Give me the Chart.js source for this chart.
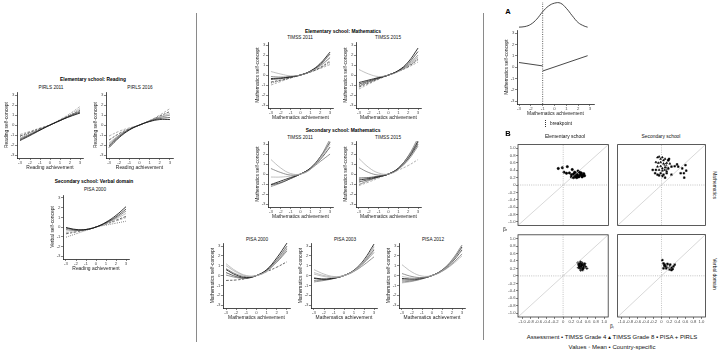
<!DOCTYPE html>
<html><head><meta charset="utf-8">
<script src="https://cdn.jsdelivr.net/npm/chart.js@4/dist/chart.umd.min.js"></script>
<style>
html,body{margin:0;padding:0;background:#fff;}
body{width:720px;height:353px;overflow:hidden;position:relative;font-family:"Liberation Sans",Arial,sans-serif;}
canvas{position:absolute;}
.t{position:absolute;transform:translate(-50%,-50%);white-space:nowrap;font-size:4.7px;color:#111;line-height:1;}
.b{font-weight:bold;font-size:4.9px;color:#000;}
.big{font-weight:bold;font-size:7.5px;color:#000;}
.s{font-size:4.9px;color:#111;}
.lg{font-size:6px;color:#111;}
.sep{position:absolute;width:1px;background:#8a8a8a;}
</style></head><body>
<script>
// ---------------- DATA ----------------
const achievementTicks = [-3,-2,-1,0,1,2,3];
const curveX = [-3,-2,-1,0,1,2,3];
const betaTicks = [-1.0,-0.8,-0.6,-0.4,-0.2,0,0.2,0.4,0.6,0.8,1.0];

// Elementary reading
const pirls2011 = [
  [-1.55,-1.05,-0.52,0,0.45,0.85,1.2],
  [-1.45,-0.97,-0.48,0,0.45,0.9,1.3],
  [-1.35,-0.9,-0.45,0,0.47,0.95,1.4],
  [-1.2,-0.8,-0.4,0,0.5,1.05,1.65],
  [-1.1,-0.72,-0.35,0,0.45,0.95,1.5],
  [-0.95,-0.63,-0.3,0,0.55,1.15,1.85]
];
const pirls2016 = [
  [-2.25,-1.25,-0.5,0,0.35,0.55,0.55],
  [-2.1,-1.15,-0.45,0,0.38,0.65,0.75],
  [-1.95,-1.05,-0.42,0,0.4,0.75,1.0],
  [-1.8,-1.0,-0.4,0,0.42,0.82,1.15],
  [-1.5,-0.85,-0.37,0,0.43,0.9,1.35],
  [-1.1,-0.62,-0.28,0,0.45,1.0,1.65]
];
// Secondary verbal
const pisa2000Verbal = [
  [-0.05,-0.25,-0.25,0,0.5,1.2,2.1],
  [-0.1,-0.3,-0.27,0,0.45,1.05,1.85],
  [-0.25,-0.35,-0.28,0,0.42,0.95,1.65],
  [-0.4,-0.38,-0.27,0,0.38,0.85,1.4],
  [-0.6,-0.45,-0.25,0,0.3,0.62,0.98],
  [-0.7,-0.5,-0.28,0,0.32,0.7,1.1],
  [-1.05,-0.7,-0.35,0,0.2,0.4,0.6]
];
// Elementary mathematics
const timss2011Elem = [
  [0.35,0.1,-0.08,0,0.35,0.9,1.7],
  [-0.35,-0.3,-0.18,0,0.4,1.15,2.3],
  [-0.45,-0.35,-0.2,0,0.38,1.05,2.1],
  [-0.15,-0.2,-0.15,0,0.35,0.95,1.75],
  [-0.7,-0.5,-0.25,0,0.3,0.75,1.4],
  [-0.8,-0.55,-0.28,0,0.32,0.72,1.25],
  [-1.0,-0.65,-0.3,0,0.3,0.65,1.05]
];
const timss2015Elem = [
  [0.55,0.1,-0.15,0,0.35,0.95,1.8],
  [-0.75,-0.5,-0.25,0,0.45,1.3,2.7],
  [-0.9,-0.6,-0.3,0,0.42,1.15,2.35],
  [-1.1,-0.7,-0.33,0,0.4,1.0,2.0],
  [-1.0,-0.68,-0.33,0,0.4,0.9,1.65],
  [-1.2,-0.8,-0.38,0,0.38,0.85,1.55],
  [-1.4,-0.9,-0.42,0,0.35,0.78,1.3]
];
// Secondary mathematics
const timss2011Sec = [
  [1.45,0.6,0.05,0,0.45,1.6,3.3],
  [0.55,0.15,-0.1,0,0.5,1.7,3.5],
  [-0.3,-0.3,-0.2,0,0.5,1.55,3.0],
  [-1.05,-0.7,-0.35,0,0.6,1.7,3.2],
  [-1.1,-0.85,-0.45,0,0.55,1.45,2.7],
  [-1.25,-0.9,-0.45,0,0.5,1.25,2.0]
];
const timss2015Sec = [
  [1.55,0.65,0.1,0,0.45,1.7,3.5],
  [0.65,0.15,-0.1,0,0.55,1.8,3.6],
  [-0.4,-0.35,-0.2,0,0.52,1.6,3.2],
  [-0.6,-0.45,-0.25,0,0.6,1.75,3.3],
  [-0.8,-0.55,-0.3,0,0.55,1.55,3.0],
  [-1.05,-0.65,-0.3,0,0.5,1.4,2.8],
  [-1.15,-0.8,-0.4,0,0.4,0.85,1.45]
];
const pisa2000Math = [
  [1.2,0.45,0.0,0,0.4,1.4,2.8],
  [1.0,0.35,-0.05,0,0.45,1.5,3.0],
  [0.7,0.15,-0.12,0,0.48,1.35,2.5],
  [0.6,0.05,-0.2,0,0.6,1.8,3.3],
  [0.3,-0.1,-0.25,0,0.55,1.6,3.0],
  [0.05,-0.2,-0.3,0,0.5,1.4,2.7],
  [-0.5,-0.45,-0.3,0,0.4,0.85,1.4]
];
const pisa2003Math = [
  [0.6,0.15,-0.1,0,0.45,1.45,2.9],
  [0.3,0.0,-0.15,0,0.45,1.35,2.7],
  [0.15,-0.1,-0.2,0,0.5,1.5,3.0],
  [-0.25,-0.35,-0.25,0,0.55,1.6,3.2],
  [-0.3,-0.4,-0.28,0,0.5,1.4,2.6],
  [-0.5,-0.45,-0.28,0,0.48,1.3,2.35],
  [-0.65,-0.5,-0.3,0,0.42,1.1,1.9]
];
const pisa2012Math = [
  [1.1,0.35,-0.05,0,0.45,1.5,3.1],
  [0.2,-0.1,-0.2,0,0.55,1.6,3.1],
  [-0.1,-0.25,-0.22,0,0.5,1.45,2.8],
  [-0.3,-0.35,-0.25,0,0.55,1.5,2.9],
  [-0.45,-0.45,-0.3,0,0.5,1.35,2.6],
  [-0.65,-0.55,-0.33,0,0.45,1.2,2.2],
  [-0.75,-0.6,-0.35,0,0.42,1.1,2.0]
];

// Panel A: breakpoint illustration
const breakX = -1;
const segLeftX = [-3,-1], segLeftY = [0.4,0.1];
const segRightX = [-1,2.8], segRightY = [-0.35,1.0];
const densX = [-3,-2.5,-2,-1.5,-1,-0.5,0,0.5,1,1.5,2,2.5,2.8];
const densY = [0.02,0.03,0.07,0.16,0.29,0.39,0.44,0.44,0.35,0.22,0.1,0.04,0.02];

// Panel B: slopes (x = beta left, y = beta right)
const elemMathX = [-0.12,-0.02,0.1,0.02,0.08,0.15,0.2,0.22,0.25,0.28,0.2,0.25,0.3,0.33,0.35,0.4,0.4,0.42,0.45,0.48,0.5,0.52,0.38,0.3,0.34,0.44,0.46,0.36,0.5,0.27];
const elemMathY = [0.45,0.47,0.5,0.35,0.32,0.33,0.28,0.42,0.3,0.35,0.22,0.2,0.22,0.2,0.28,0.35,0.25,0.3,0.27,0.25,0.28,0.25,0.22,0.3,0.24,0.33,0.22,0.38,0.31,0.26];
const secMathTimssX = [-0.1,-0.06,-0.02,0.02,0.05,0.09,0.17,-0.14,-0.08,-0.02,0.05,0.13,0.21,-0.1,-0.02,0.02,0.09,0.17,-0.06,0.02,0.08,0.13];
const secMathTimssY = [0.75,0.77,0.71,0.75,0.67,0.71,0.68,0.62,0.6,0.62,0.58,0.6,0.58,0.5,0.51,0.45,0.48,0.45,0.41,0.39,0.41,0.37];
const secMathPisaX = [-0.14,-0.22,-0.16,-0.02,0.05,0.13,-0.06,0.02,0.09,0.25,0.33,0.39,0.42,0.52,0.6,0.56,0.62,0.57,0.48,0.17,0.19,0.25,-0.1];
const secMathPisaY = [0.41,0.41,0.32,0.32,0.28,0.32,0.26,0.24,0.2,0.5,0.51,0.56,0.5,0.45,0.54,0.32,0.39,0.2,0.32,0.67,0.71,0.28,0.28];
const elemVerbX = [0.38,0.42,0.45,0.48,0.4,0.44,0.5,0.52,0.36,0.41,0.47,0.55,0.43,0.39,0.46,0.5,0.42,0.48,0.44,0.53,0.37,0.45,0.49,0.4,0.58];
const elemVerbY = [0.3,0.33,0.28,0.32,0.25,0.22,0.27,0.3,0.35,0.2,0.18,0.25,0.15,0.28,0.35,0.22,0.38,0.16,0.26,0.33,0.22,0.3,0.2,0.32,0.2];
const secVerbX = [0.02,0.05,0.08,0.1,0.05,0.12,0.22,0.25,0.28,0.3,0.33,0.25,0.2,0.07,0.15];
const secVerbY = [0.42,0.33,0.3,0.25,0.2,0.2,0.3,0.22,0.18,0.25,0.3,0.15,0.17,0.27,0.32];
const meanElemMath = [0.3,0.3], meanSecMathTimss = [0.1,0.55], meanSecMathPisa = [0.15,0.45];
const meanElemVerb = [0.46,0.27], meanSecVerb = [0.17,0.26];

// ---------------- STYLES / HELPERS ----------------
const FONT = '"Liberation Sans", Arial, sans-serif';
Chart.defaults.font.family = FONT;
const STY = {
  k:{borderColor:'#111',borderWidth:0.85,borderDash:[]},
  d:{borderColor:'#3a3a3a',borderWidth:0.8,borderDash:[]},
  g:{borderColor:'#707070',borderWidth:0.75,borderDash:[]},
  l:{borderColor:'#acacac',borderWidth:0.75,borderDash:[]},
  dk:{borderColor:'#333',borderWidth:0.75,borderDash:[2.5,1.5]},
  dl:{borderColor:'#999',borderWidth:0.75,borderDash:[2.5,1.5]},
  dt:{borderColor:'#555',borderWidth:0.75,borderDash:[1,1.2]}
};

function txt(s, x, y, cls, rot){
  const d = document.createElement('div');
  d.className = 't ' + (cls||'');
  d.textContent = s;
  d.style.left = x + 'px'; d.style.top = y + 'px';
  if (rot) d.style.transform = 'translate(-50%,-50%) rotate(' + rot + 'deg)';
  document.body.appendChild(d);
}
function sep(x, y1, y2){
  const d = document.createElement('div');
  d.className = 'sep';
  d.style.left = x + 'px'; d.style.top = y1 + 'px'; d.style.height = (y2-y1) + 'px';
  document.body.appendChild(d);
}
function mkCanvas(left, top, w, h){
  const c = document.createElement('canvas');
  c.width = w; c.height = h;
  c.style.left = left + 'px'; c.style.top = top + 'px';
  c.style.width = w + 'px'; c.style.height = h + 'px';
  document.body.appendChild(c);
  return c;
}
function axisOpts(ticksArr, min, max, title, fitFn, fmt){
  return {
    type:'linear', min:min, max:max,
    afterBuildTicks: s => { s.ticks = ticksArr.map(v => ({value:v})); },
    afterFit: fitFn,
    grid:{drawOnChartArea:false, tickLength:2, color:'#333', lineWidth:0.6},
    border:{display:true, color:'#000', width:0.7},
    ticks:{font:{size:4.3}, color:'#4d4d4d', padding:0.5, maxRotation:0, minRotation:0, autoSkip:false,
           callback: fmt || (v => String(v))},
    title:{display:!!title, text:title, font:{size:4.9}, color:'#222', padding:0}
  };
}
const baseOpts = () => ({responsive:false, animation:false, events:[],
  plugins:{legend:{display:false}, tooltip:{enabled:false}}});

function curveChart(area, xr, yr, xTitle, yTitle, datasets){
  const [L,T,R,B] = area;
  const pl = 13, pt = 3, pr = 5, pb = 13;
  const c = mkCanvas(L-pl, T-pt, R-L+pl+pr, B-T+pt+pb);
  const o = baseOpts();
  o.layout = {padding:{top:pt, right:pr, left:0, bottom:0}};
  o.scales = {
    x: axisOpts(achievementTicks, xr[0], xr[1], xTitle, s => { s.height = pb; }),
    y: axisOpts(achievementTicks, yr[0], yr[1], yTitle, s => { s.width = pl; })
  };
  new Chart(c, {type:'line', data:{datasets}, options:o});
}
function curveSets(curves, styles){
  return curves.map((ys,i) => Object.assign({
    data: curveX.map((x,j) => ({x:x, y:ys[j]})),
    pointRadius:0, tension:0.4, fill:false
  }, STY[styles[i]]));
}
function panel(area, curves, styles, xTitle, yTitle){
  curveChart(area, [-3.3,3.3], [-3.3,3.3], xTitle, yTitle, curveSets(curves, styles));
}

// ---------------- LAYOUT ----------------
sep(196, 13, 342);
sep(483, 13, 340);

// Left block: reading / verbal
txt('Elementary school: Reading', 93, 80, 'b');
txt('PIRLS 2011', 51, 88); txt('PIRLS 2016', 140, 88);
panel([17,92,83,158], pirls2011, ['k','d','g','dt','dk','dl'], 'Reading achievement', 'Reading self-concept');
panel([106,92,173,158], pirls2016, ['k','d','g','l','dk','dl'], 'Reading achievement', 'Reading self-concept');
txt('Secondary school: Verbal domain', 94, 182, 'b');
txt('PISA 2000', 95, 190);
panel([63,195,129,259], pisa2000Verbal, ['k','d','g','l','dl','dk','dt'], 'Reading achievement', 'Verbal self-concept');

// Middle block: mathematics
txt('Elementary school: Mathematics', 343, 32, 'b');
txt('TIMSS 2011', 300, 38); txt('TIMSS 2015', 388, 38);
panel([268,42,333,108], timss2011Elem, ['l','k','d','g','dk','dt','dl'], 'Mathematics achievement', 'Mathematics self-concept');
panel([356,42,421,108], timss2015Elem, ['l','k','d','g','dt','dk','dl'], 'Mathematics achievement', 'Mathematics self-concept');
txt('Secondary school: Mathematics', 343, 131, 'b');
txt('TIMSS 2011', 300, 138); txt('TIMSS 2015', 388, 138);
panel([268,141,333,207], timss2011Sec, ['l','g','l','k','d','g'], 'Mathematics achievement', 'Mathematics self-concept');
panel([356,141,421,207], timss2015Sec, ['l','g','d','k','d','g','dl'], 'Mathematics achievement', 'Mathematics self-concept');
txt('PISA 2000', 257, 240); txt('PISA 2003', 345, 240); txt('PISA 2012', 433, 240);
panel([223,243,290,308], pisa2000Math, ['l','l','g','k','d','g','dk'], 'Mathematics achievement', 'Mathematics self-concept');
panel([311,243,377,308], pisa2003Math, ['l','l','l','k','d','g','g'], 'Mathematics achievement', 'Mathematics self-concept');
panel([399,243,465,308], pisa2012Math, ['l','g','l','k','d','g','l'], 'Mathematics achievement', 'Mathematics self-concept');

// Right block, panel A
txt('A', 508, 12, 'big');
const axr = [-3.17,3.34], ayr = [-3.26,3.26];
const dotLine = {borderColor:'#333', borderWidth:0.8, borderDash:[1,1.3], pointRadius:0};
curveChart([517,30,594,104], axr, ayr, 'Mathematics achievement', 'Mathematics self-concept', [
  Object.assign({data:[{x:breakX,y:ayr[0]},{x:breakX,y:ayr[1]}]}, dotLine),
  {data: segLeftX.map((x,i)=>({x:x,y:segLeftY[i]})), borderColor:'#333', borderWidth:0.9, pointRadius:0},
  {data: segRightX.map((x,i)=>({x:x,y:segRightY[i]})), borderColor:'#333', borderWidth:0.9, pointRadius:0}
]);
(function(){
  const c = mkCanvas(517, 2, 77, 28);
  const o = baseOpts();
  o.layout = {padding:0};
  o.scales = {x:{type:'linear', min:axr[0], max:axr[1], display:false},
              y:{type:'linear', min:-0.03, max:0.46, display:false}};
  new Chart(c, {type:'line', data:{datasets:[
    {data: densX.map((x,i)=>({x:x,y:densY[i]})), borderColor:'#333', borderWidth:0.9, pointRadius:0, tension:0.4},
    Object.assign({data:[{x:breakX,y:-0.03},{x:breakX,y:0.46}]}, dotLine)
  ]}, options:o});
})();
(function(){
  const d = document.createElement('div');
  d.style.cssText = 'position:absolute;left:545px;top:120px;width:0;height:7px;border-left:0.8px dotted #333;';
  document.body.appendChild(d);
})();
txt('breakpoint', 561, 124, '', 0);

// Panel B
txt('B', 508, 134, 'big');
txt('Elementary school', 565, 137, 's');
txt('Secondary school', 661, 137, 's');
txt('Mathematics', 714, 185, 's', 90);
txt('Verbal domain', 714, 274, 's', 90);
txt('βᵣ', 505, 230, 's');
txt('βₗ', 612, 327, 's');

const boxPlugin = {id:'box', afterDatasetsDraw(chart){
  const a = chart.chartArea, ctx = chart.ctx;
  ctx.save(); ctx.strokeStyle = '#333'; ctx.lineWidth = 0.8;
  ctx.strokeRect(a.left, a.top, a.right-a.left, a.bottom-a.top); ctx.restore();
}};
const betaFmt = v => (v === 0 ? '0' : v.toFixed(1));
function pts(xs, ys){ return xs.map((x,i)=>({x:x, y:ys[i]})); }
function refSets(){
  return [
    {data:[{x:-1.1,y:-1.1},{x:1.1,y:1.1}], showLine:true, borderColor:'#bdbdbd', borderWidth:0.6, pointRadius:0},
    {data:[{x:-1.1,y:0},{x:1.1,y:0}], showLine:true, borderColor:'#aaa', borderWidth:0.7, borderDash:[1,1.2], pointRadius:0},
    {data:[{x:0,y:-1.1},{x:0,y:1.1}], showLine:true, borderColor:'#aaa', borderWidth:0.7, borderDash:[1,1.2], pointRadius:0}
  ];
}
function grp(xs, ys, style){
  return {data:pts(xs,ys), pointStyle:style, pointRadius:1.2, backgroundColor:'#000', borderColor:'#000', borderWidth:0.5};
}
function meanPt(p, style){
  return {data:[{x:p[0],y:p[1]}], pointStyle:style, pointRadius:1.8, backgroundColor:'#fff', borderColor:'#000', borderWidth:0.6};
}
function betaChart(area, showY, showX, sets){
  const [L,T,R,B] = area;
  const pl = showY ? 14 : 1, pb = showX ? 7 : 1, pt = 1, pr = 1;
  const c = mkCanvas(L-pl, T-pt, R-L+pl+pr, B-T+pt+pb);
  const o = baseOpts();
  o.layout = {padding:{top:pt, right:pr, left: showY?0:pl, bottom: showX?0:pb}};
  const xa = axisOpts(betaTicks, -1.1, 1.1, '', s => { s.height = pb; }, betaFmt);
  const ya = axisOpts(betaTicks, -1.1, 1.1, '', s => { s.width = pl; }, betaFmt);
  xa.display = showX; ya.display = showY;
  xa.ticks.font = {size:4.2}; ya.ticks.font = {size:4.2};
  xa.border.display = false; ya.border.display = false;
  o.scales = {x:xa, y:ya};
  new Chart(c, {type:'scatter', data:{datasets: refSets().concat(sets)}, options:o, plugins:[boxPlugin]});
}
betaChart([518,141,612,229], true, false, [grp(elemMathX, elemMathY, 'circle'), meanPt(meanElemMath,'circle')]);
betaChart([614,141,709,229], false, false, [grp(secMathTimssX, secMathTimssY, 'triangle'), grp(secMathPisaX, secMathPisaY, 'rect'),
  meanPt(meanSecMathTimss,'triangle'), meanPt(meanSecMathPisa,'rect')]);
betaChart([518,231,612,317], true, true, [Object.assign(grp(elemVerbX, elemVerbY, 'cross'), {pointRadius:1.5, borderWidth:0.8}), meanPt(meanElemVerb,'triangle')]);
betaChart([614,231,709,317], false, true, [grp(secVerbX, secVerbY, 'rect'), meanPt(meanSecVerb,'rect')]);

txt('Assessment  \u2022  TIMSS Grade 4  \u25B4  TIMSS Grade 8  \u25AA  PISA  +  PIRLS', 612, 337, 'lg');
txt('Values  \u25E6  Mean  \u2022  Country-specific', 612, 347, 'lg');
</script>
</body></html>
